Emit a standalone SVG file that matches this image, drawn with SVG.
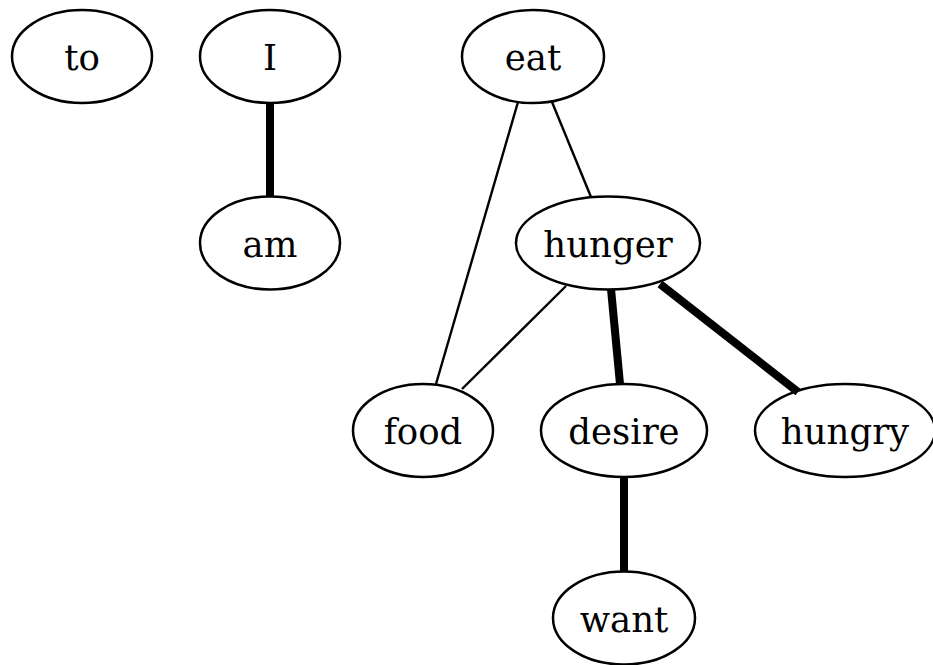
<svg xmlns="http://www.w3.org/2000/svg" width="933" height="665" viewBox="0 0 933 665">
<style>
.n ellipse{fill:none;stroke:#000;stroke-width:2.5}
.n text{font-family:"DejaVu Serif",serif;font-size:35.5px;text-anchor:middle;fill:#000}
.e{stroke:#000;fill:none;stroke-linecap:butt}
.thin{stroke-width:2.4}
.thick{stroke-width:8}
</style>
<rect width="933" height="665" fill="#fff"/>
<g id="edges">
<line class="e thick" x1="270" y1="103" x2="270" y2="196"/>
<line class="e thin" x1="518" y1="102" x2="436" y2="384"/>
<line class="e thin" x1="552" y1="102" x2="591" y2="197"/>
<line class="e thin" x1="566" y1="286" x2="462" y2="389"/>
<line class="e thick" x1="611" y1="289" x2="620" y2="384"/>
<line class="e thick" x1="660" y1="284" x2="798" y2="392"/>
<line class="e thick" x1="624" y1="477" x2="624" y2="572"/>
</g>
<g id="to" class="n"><ellipse cx="82" cy="56.5" rx="70" ry="46.5"/><text x="82" y="70">to</text></g>
<g id="I" class="n"><ellipse cx="270" cy="56.5" rx="70" ry="46.5"/><text x="270" y="70">I</text></g>
<g id="eat" class="n"><ellipse cx="533" cy="56.5" rx="71" ry="46.5"/><text x="533" y="70">eat</text></g>
<g id="am" class="n"><ellipse cx="270" cy="243" rx="70" ry="46.5"/><text x="270" y="256.5">am</text></g>
<g id="hunger" class="n"><ellipse cx="608" cy="243" rx="92" ry="46.5"/><text x="608" y="256.5">hunger</text></g>
<g id="food" class="n"><ellipse cx="423" cy="430.5" rx="70" ry="46.5"/><text x="423" y="444">food</text></g>
<g id="desire" class="n"><ellipse cx="624" cy="430.5" rx="83" ry="46.5"/><text x="624" y="444">desire</text></g>
<g id="hungry" class="n"><ellipse cx="845" cy="430.5" rx="90" ry="46.5"/><text x="845" y="444">hungry</text></g>
<g id="want" class="n"><ellipse cx="624" cy="618" rx="71" ry="46.5"/><text x="624" y="631.5">want</text></g>
</svg>
